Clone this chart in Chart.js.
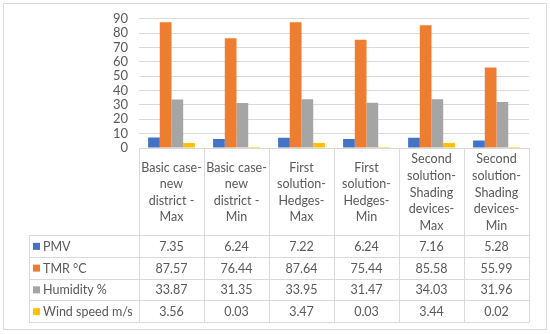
<!DOCTYPE html>
<html>
<head>
<meta charset="utf-8">
<script src="https://cdn.jsdelivr.net/npm/chart.js@4.4.0/dist/chart.umd.min.js"></script>
<style>
  html, body { margin: 0; padding: 0; background: #fff; }
  #wrap { width: 550px; height: 334px; }
</style>
</head>
<body>
<div id="wrap"><canvas id="grafico" width="550" height="334"></canvas></div>
<script>
// categorias (cabeçalho da tabela, já quebrado em linhas)
const categorias = [
  ['Basic case-', 'new', 'district -', 'Max'],
  ['Basic case-', 'new', 'district -', 'Min'],
  ['First', 'solution-', 'Hedges-', 'Max'],
  ['First', 'solution-', 'Hedges-', 'Min'],
  ['Second', 'solution-', 'Shading', 'devices-', 'Max'],
  ['Second', 'solution-', 'Shading', 'devices-', 'Min']
];
const nomesSeries = ['PMV', 'TMR °C', 'Humidity %', 'Wind speed m/s'];
const pmv = [7.35, 6.24, 7.22, 6.24, 7.16, 5.28];
const tmr = [87.57, 76.44, 87.64, 75.44, 85.58, 55.99];
const umidade = [33.87, 31.35, 33.95, 31.47, 34.03, 31.96];
const vento = [3.56, 0.03, 3.47, 0.03, 3.44, 0.02];
const yMin = 0, yMax = 90, yPasso = 10;

const cores = ['#4472C4', '#ED7D31', '#A5A5A5', '#FFC000'];
const corTexto = '#595959';
const corLinha = '#d9d9d9';
const fonte = 'Lato, "Liberation Sans", sans-serif';

// tabela de dados abaixo do grafico (estilo Excel)
const tabelaPlugin = {
  id: 'tabelaDados',
  afterDraw(chart) {
    const ctx = chart.ctx;
    const area = chart.chartArea;
    const x = chart.scales.x;
    const n = categorias.length;
    const larg = (area.right - area.left) / n;
    const topo = area.bottom;
    const altCab = 87;
    const altLinha = 21.75;
    const legEsq = 29;
    const series = chart.data.datasets;
    const fim = topo + altCab + altLinha * series.length;

    ctx.save();
    ctx.strokeStyle = corLinha;
    ctx.lineWidth = 1;

    // borda externa
    ctx.strokeRect(3.5, 3.5, 543, 326);

    // linhas horizontais
    ctx.beginPath();
    ctx.moveTo(area.left, Math.round(topo) + 0.5);
    ctx.lineTo(area.right, Math.round(topo) + 0.5);
    for (let r = 0; r <= series.length; r++) {
      const yy = Math.round(topo + altCab + r * altLinha) + 0.5;
      ctx.moveTo(legEsq, yy);
      ctx.lineTo(area.right, yy);
    }
    // linhas verticais
    for (let i = 0; i <= n; i++) {
      const xx = Math.round(area.left + i * larg) + 0.5;
      ctx.moveTo(xx, topo);
      ctx.lineTo(xx, fim);
    }
    ctx.moveTo(legEsq + 0.5, topo + altCab);
    ctx.lineTo(legEsq + 0.5, fim);
    ctx.stroke();

    // cabeçalho
    ctx.fillStyle = corTexto;
    ctx.font = '12.5px ' + fonte;
    ctx.textAlign = 'center';
    ctx.textBaseline = 'middle';
    const entre = 16.6;
    categorias.forEach(function(linhas, i) {
      const cx = x.getPixelForValue(i);
      const meio = topo + altCab / 2 + 1;
      const y0 = meio - (linhas.length - 1) * entre / 2;
      linhas.forEach(function(t, k) {
        ctx.fillText(t, cx, y0 + k * entre);
      });
    });

    // linhas da tabela
    series.forEach(function(ds, r) {
      const cy = topo + altCab + r * altLinha + altLinha / 2 + 1;
      ctx.fillStyle = ds.backgroundColor;
      ctx.fillRect(legEsq + 4, cy - 4, 7, 7);
      ctx.fillStyle = corTexto;
      ctx.textAlign = 'left';
      ctx.fillText(ds.label, legEsq + 14, cy);
      ctx.textAlign = 'center';
      ds.data.forEach(function(v, i) {
        ctx.fillText(v.toFixed(2), x.getPixelForValue(i), cy);
      });
    });
    ctx.restore();
  }
};

const data = {
  labels: categorias,
  datasets: [
    { label: nomesSeries[0], data: pmv, backgroundColor: cores[0] },
    { label: nomesSeries[1], data: tmr, backgroundColor: cores[1] },
    { label: nomesSeries[2], data: umidade, backgroundColor: cores[2] },
    { label: nomesSeries[3], data: vento, backgroundColor: cores[3] }
  ]
};

const config = {
  type: 'bar',
  data: data,
  options: {
    responsive: false,
    animation: false,
    layout: {
      padding: { left: 0, right: 21, top: 13, bottom: 186 }
    },
    datasets: {
      bar: { barPercentage: 1, categoryPercentage: 0.72 }
    },
    scales: {
      x: { display: false },
      y: {
        min: yMin,
        max: yMax,
        border: { display: false },
        grid: { color: corLinha, drawTicks: false },
        ticks: {
          stepSize: yPasso,
          autoSkip: false,
          padding: 11,
          color: corTexto,
          font: { family: fonte, size: 13 }
        },
        afterFit: function(scale) { scale.width = 139; }
      }
    },
    plugins: {
      legend: { display: false },
      tooltip: { enabled: false }
    }
  },
  plugins: [tabelaPlugin]
};

new Chart(document.getElementById('grafico'), config);
</script>
</body>
</html>
